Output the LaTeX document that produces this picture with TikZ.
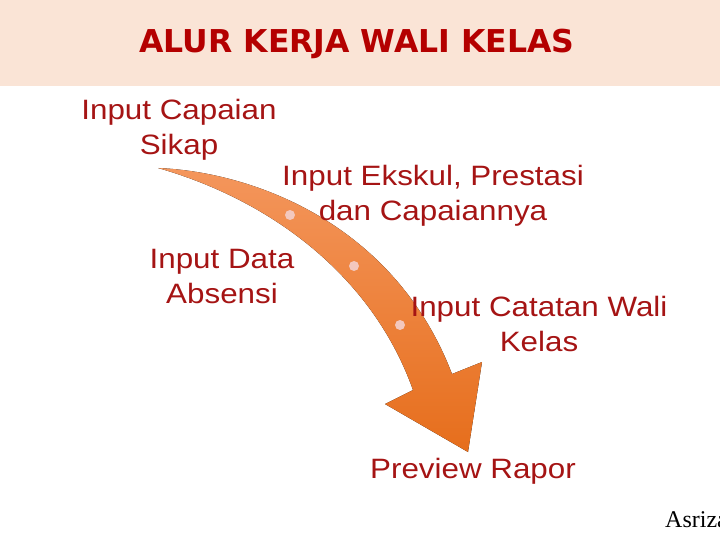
\documentclass[tikz,border=0pt]{standalone}
\usepackage{fontspec}
\setmainfont{Liberation Sans}[FakeStretch=1.12]
\newfontfamily\titlefont{DejaVu Sans}
\newfontfamily\signfont{Liberation Serif}
\usetikzlibrary{positioning}
\definecolor{bandpink}{RGB}{250,228,214}
\definecolor{titlered}{RGB}{180,0,0}
\definecolor{labelred}{RGB}{165,20,20}
\definecolor{flowlight}{RGB}{244,150,92}
\definecolor{flowdark}{RGB}{230,110,28}
\definecolor{dotpink}{RGB}{243,200,190}
\tikzset{
    steplabel/.style={align=center, text=labelred, inner sep=0pt, font=\fontsize{28}{35}\selectfont},
    flowdot/.style={circle, fill=dotpink, minimum size=10pt, inner sep=0pt},
    flowarrow/.style={top color=flowlight, bottom color=flowdark, draw=none}
}

\begin{document}
\begin{tikzpicture}[x=1pt, y=-1pt]
    \useasboundingbox (0,0) rectangle (720,540);
    \clip (0,0) rectangle (720,540);
    % header
    \fill[bandpink] (0,0) rectangle (720,86);
    \node[text=titlered, font=\titlefont\bfseries\fontsize{31.5}{36}\selectfont] (title) at (357,44) {ALUR KERJA WALI KELAS};

    % curved arrow
    \fill[flowarrow] (158,168) .. controls (255,172) and (395,225) .. (452,374) -- (482,362) -- (468,452)
        -- (385,404) -- (413,390) .. controls (372,275) and (270,200) .. (158,168) -- cycle;
    \node[flowdot] (dot1) at (290,215) {};
    \node[flowdot] (dot2) at (354,266) {};
    \node[flowdot] (dot3) at (400,325) {};

    % Nodes
    \node[steplabel] (sikap) at (179,130) {Input Capaian\\Sikap};
    \node[steplabel] (ekskul) at (433,196) {Input Ekskul, Prestasi\\dan Capaiannya};
    \node[steplabel] (absensi) at (222,277) {Input Data\\Absensi};
    \node[steplabel] (catatan) at (539,324) {Input Catatan Wali\\Kelas};
    \node[steplabel, anchor=base] (rapor) at (473,478) {Preview Rapor};
    \node[anchor=base west, inner sep=0pt, font=\signfont\fontsize{24}{28}\selectfont] (sign) at (665,527) {Asriza};
\end{tikzpicture}
\end{document}
